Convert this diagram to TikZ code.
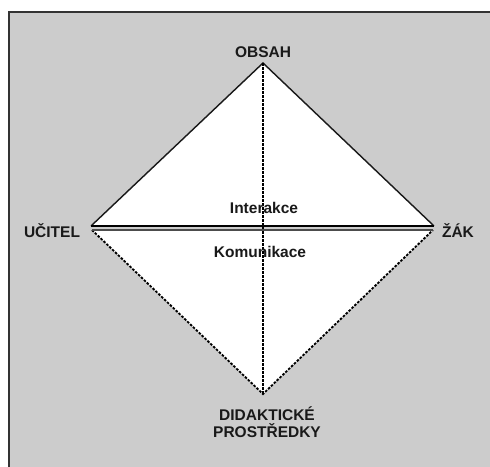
\documentclass[tikz,border=0pt]{standalone}
\usepackage{fontspec}
\setmainfont{Liberation Sans}
\usepackage{tikz}
\usetikzlibrary{calc}
\definecolor{boxgray}{RGB}{204,204,204}
\tikzset{
	label/.style={font=\bfseries\fontsize{15.5}{17}\selectfont, text=black!90, inner sep=0pt},
	dotline/.style={line width=0.65mm, dash pattern=on 2.5pt off 1.5pt}
}

\begin{document}
\begin{tikzpicture}[x=1pt,y=-1pt]
		%%%%% START %%%%%
		\useasboundingbox (0, 0) rectangle (490, 466);
		
		\draw[line width=0.6mm, fill=boxgray, color=black!80] (9, 12) rectangle (494, 470);
		\fill[boxgray] (9.9, 12.9) rectangle (494, 470);
		
		\coordinate (top) at (263, 63);
		\coordinate (left) at (91, 226);
		\coordinate (right) at (434, 226);
		\coordinate (lleft) at (92, 230);
		\coordinate (lright) at (433, 230);
		\coordinate (bottom) at (263, 394);
		
		% upper triangle
		\fill[white] (left) -- (top) -- (right) -- cycle;
		% lower triangle
		\fill[white] (lleft) -- (lright) -- (bottom) -- cycle;
		\draw[line width=0.5mm, color=black!90] (left) -- (top) -- (right);
		\draw[dotline] (lleft) -- (bottom) -- (lright);
		\draw[dotline, line width=0.55mm] (top) -- (bottom);
		
		% the double line
		\draw[line width=0.6mm] (left) -- (right);
		\draw[line width=0.4mm, color=black!70] (lleft) -- (lright);
		
		\node[label] (obsah) at (263, 52) {OBSAH};
		\node[label] (ucitel) at (52, 231) {UČITEL};
		\node[label] (zak) at (458, 231) {ŽÁK};
		\node[label] (interakce) at (264, 208) {Interakce};
		\node[label] (komunikace) at (260, 252) {Komunikace};
		\node[label, align=center] (prostredky) at (267, 422) {DIDAKTICKÉ\\PROSTŘEDKY};
		
		%%%%% END %%%%%
	\end{tikzpicture}
\end{document}
